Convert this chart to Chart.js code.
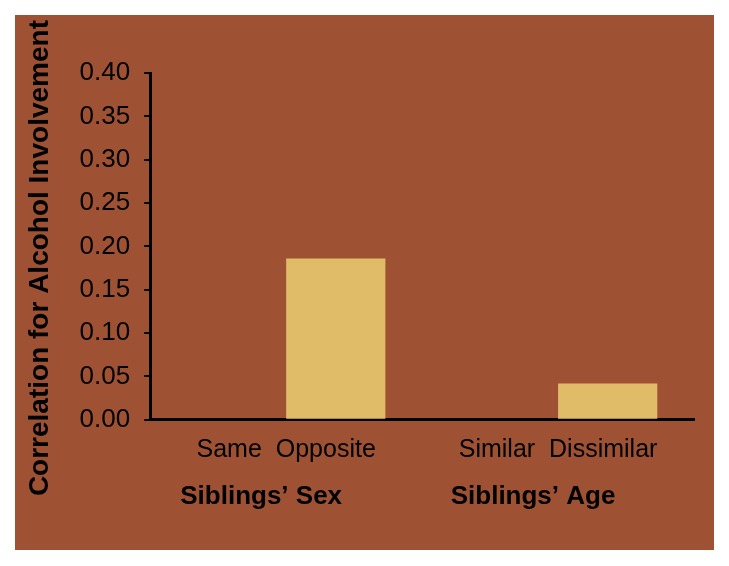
<!DOCTYPE html>
<html lang="en">
<head>
    <meta charset="UTF-8">
    <script src="https://cdn.jsdelivr.net/npm/chart.js"></script>
    <title>Correlation for Alcohol Involvement</title>
    <style>
        html, body { margin: 0; padding: 0; background: #ffffff; }
        .painel {
            position: absolute;
            left: 15px;
            top: 15px;
            width: 699px;
            height: 535px;
            background: #9e5233;
        }
    </style>
</head>
<body>
    <div class="painel">
        <canvas id="chart-corr" width="699" height="535"></canvas>
    </div>
</body>
</html>

<script>
    // dados
    const grupos = ['Siblings\u2019 Sex', 'Siblings\u2019 Age'];
    const nivel1 = ['Same', 'Similar'];
    const nivel2 = ['Opposite', 'Dissimilar'];
    const valores1 = [0, 0];
    const valores2 = [0.186, 0.042];
    const yTicks = [0, 0.05, 0.10, 0.15, 0.20, 0.25, 0.30, 0.35, 0.40];

    const fonte = "'Liberation Sans', Arial, sans-serif";

    const ctxCorr = document.getElementById('chart-corr');

    new Chart(ctxCorr, {
        type: 'bar',
        data: {
            labels: grupos,
            datasets: [{
                label: 'Same / Similar',
                data: valores1,
                backgroundColor: '#e0bb68',
                borderWidth: 0
            },
            {
                label: 'Opposite / Dissimilar',
                data: valores2,
                backgroundColor: '#e0bb68',
                borderWidth: 0
            }]
        },
        options: {
            responsive: false,
            animation: false,
            devicePixelRatio: 1,
            categoryPercentage: 0.73,
            barPercentage: 1.0,
            layout: {
                padding: { top: 58, right: 20, left: 8, bottom: 38 }
            },
            plugins: {
                legend: { display: false },
                tooltip: { enabled: false }
            },
            scales: {
                y: {
                    min: 0,
                    max: 0.4,
                    afterBuildTicks: (axis) => { axis.ticks = yTicks.map(v => ({ value: v })); },
                    ticks: {
                        color: '#000',
                        font: { family: fonte, size: 26 },
                        padding: 14,
                        callback: (v) => Number(v).toFixed(2)
                    },
                    grid: {
                        display: true,
                        drawOnChartArea: false,
                        drawTicks: true,
                        tickLength: 6,
                        color: '#000',
                        lineWidth: 2
                    },
                    border: { color: '#000', width: 3 },
                    title: {
                        display: true,
                        // espacos no fim: o titulo fica um pouco abaixo do centro, como no original
                        text: 'Correlation for Alcohol Involvement\u00a0\u00a0\u00a0',
                        color: '#000',
                        font: { family: fonte, size: 28, weight: 'bold' },
                        padding: { top: 0, bottom: 9 }
                    }
                },
                x: {
                    ticks: {
                        color: '#000',
                        font: { family: fonte, size: 25, lineHeight: 1.0 },
                        padding: 18,
                        callback: (v, i) => nivel1[i] + '  ' + nivel2[i]
                    },
                    grid: { display: false, drawTicks: false },
                    border: { color: '#000', width: 3 }
                },
                x2: {
                    type: 'category',
                    position: 'bottom',
                    labels: grupos,
                    ticks: {
                        color: '#000',
                        font: { family: fonte, size: 26, weight: 'bold' },
                        padding: 0,
                        labelOffset: -25
                    },
                    grid: { display: false, drawTicks: false },
                    border: { display: false }
                }
            }
        }
    });
</script>
